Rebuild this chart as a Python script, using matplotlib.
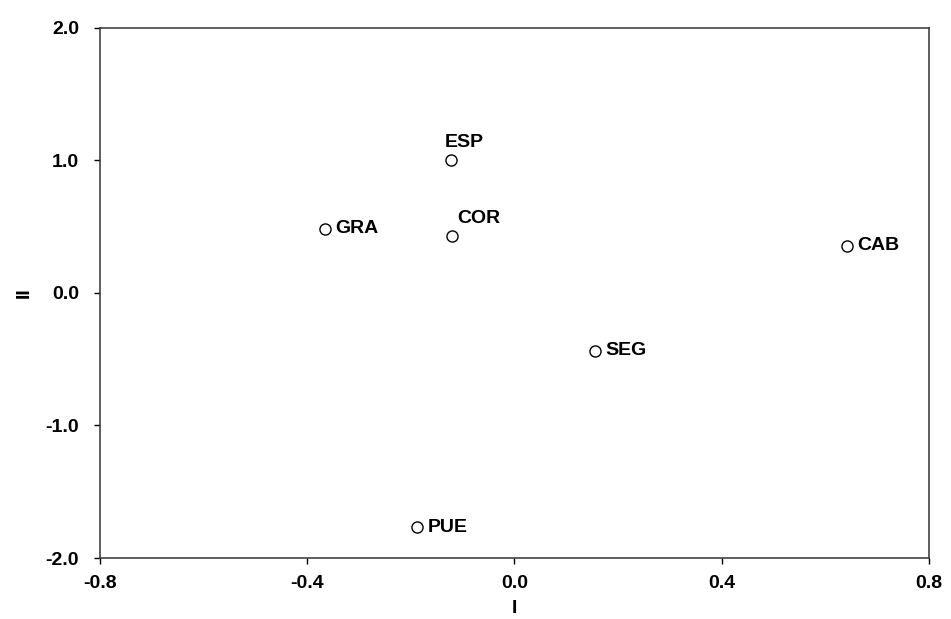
import matplotlib
matplotlib.use("Agg")
import numpy as np
from matplotlib import pyplot as plt

plt.rcParams['font.family'] = ['Liberation Sans', 'DejaVu Sans']
plt.rcParams['font.weight'] = 'bold'

# scores on dimensions I and II
names = ["ESP", "COR", "GRA", "CAB", "SEG", "PUE"]
dim1 = [-0.123, -0.120, -0.366, 0.642, 0.155, -0.188]
dim2 = [1.00, 0.43, 0.483, 0.355, -0.438, -1.766]

# labels placed above the point instead of to the right
above = {"ESP": 10, "COR": 19}

fig = plt.figure(figsize=(9.51, 6.19), dpi=100)
ax = fig.add_axes([0.105, 0.0985, 0.872, 0.8565])

ax.plot(dim1, dim2, linestyle='none', marker='o', markersize=8,
        markerfacecolor='white', markeredgecolor='black', markeredgewidth=1)

for name, x, y in zip(names, dim1, dim2):
    if name in above:
        ax.annotate(name, (x, y), xytext=(above[name], 9.5), textcoords='offset points',
                    ha='center', va='baseline', fontsize=14, fontweight='bold')
    else:
        ax.annotate(name, (x, y), xytext=(7.5, 0), textcoords='offset points',
                    ha='left', va='center', fontsize=14, fontweight='bold')

ax.set_xlim(-0.8, 0.8)
ax.set_ylim(-2.0, 2.0)
ax.set_xticks([-0.8, -0.4, 0.0, 0.4, 0.8])
ax.set_yticks([-2.0, -1.0, 0.0, 1.0, 2.0])
ax.set_xticklabels(["-0.8", "-0.4", "0.0", "0.4", "0.8"])
ax.set_yticklabels(["-2.0", "-1.0", "0.0", "1.0", "2.0"])
ax.tick_params(direction='out', length=4, width=1, labelsize=14)
ax.tick_params(axis='y', pad=11)
ax.tick_params(axis='x', pad=8)
for lab in ax.get_xticklabels() + ax.get_yticklabels():
    lab.set_fontweight('bold')

for s in ax.spines.values():
    s.set_linewidth(1.1)
    s.set_color('#333333')

ax.set_xlabel("I", fontsize=14, fontweight='bold', labelpad=6)
ax.set_ylabel("II", fontsize=14, fontweight='bold', rotation=90, labelpad=9)

fig.savefig("out.png", dpi=100)
